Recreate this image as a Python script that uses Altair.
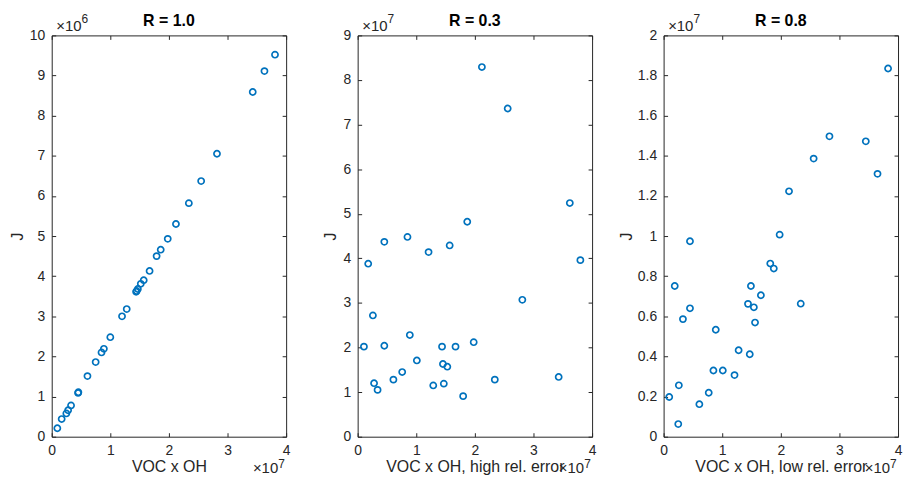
import altair as alt
import pandas as pd

# ---- data (x in units of 1e7, y in units shown by the exponent labels) ----
x1 = [0.096, 0.17, 0.25, 0.28, 0.33, 0.45, 0.455, 0.61, 0.75, 0.85,
      0.89, 1.00, 1.20, 1.28, 1.44, 1.45, 1.47, 1.52, 1.57, 1.67,
      1.79, 1.86, 1.98, 2.12, 2.34, 2.55, 2.82, 3.43, 3.63, 3.81]
y1 = [0.21, 0.44, 0.58, 0.66, 0.78, 1.09, 1.11, 1.51, 1.86, 2.10,
      2.19, 2.48, 3.00, 3.18, 3.61, 3.63, 3.68, 3.81, 3.90, 4.13,
      4.50, 4.66, 4.93, 5.30, 5.82, 6.37, 7.05, 8.59, 9.11, 9.52]

x2 = [0.107, 0.18, 0.26, 0.28, 0.34, 0.455, 0.455, 0.61, 0.76, 0.85,
      0.89, 1.01, 1.21, 1.29, 1.44, 1.455, 1.47, 1.53, 1.57, 1.67,
      1.80, 1.87, 1.98, 2.12, 2.34, 2.56, 2.81, 3.43, 3.62, 3.80]
y2 = [2.02, 3.88, 2.72, 1.20, 1.05, 4.37, 2.04, 1.28, 1.45, 4.48,
      2.28, 1.71, 4.14, 1.15, 2.02, 1.63, 1.19, 1.57, 4.29, 2.02,
      0.91, 4.82, 2.12, 8.29, 1.28, 7.36, 3.07, 1.34, 5.24, 3.96]

x3 = [0.096, 0.19, 0.26, 0.25, 0.33, 0.45, 0.45, 0.61, 0.77, 0.85,
      0.89, 1.01, 1.21, 1.28, 1.44, 1.47, 1.49, 1.54, 1.56, 1.66,
      1.82, 1.88, 1.98, 2.14, 2.34, 2.56, 2.83, 3.45, 3.65, 3.83]
y3 = [0.198, 0.751, 0.256, 0.063, 0.586, 0.974, 0.640, 0.162, 0.219, 0.330,
      0.533, 0.330, 0.307, 0.431, 0.662, 0.411, 0.751, 0.645, 0.569, 0.705,
      0.863, 0.838, 1.007, 1.223, 0.663, 1.386, 1.497, 1.472, 1.310, 1.835]

x_ticks = [0, 1, 2, 3, 4]
y_ticks1 = [0, 1, 2, 3, 4, 5, 6, 7, 8, 9, 10]
y_ticks2 = [0, 1, 2, 3, 4, 5, 6, 7, 8, 9]
y_ticks3 = [0, 0.2, 0.4, 0.6, 0.8, 1, 1.2, 1.4, 1.6, 1.8, 2]

titles = ["R = 1.0", "R = 0.3", "R = 0.8"]
x_titles = ["VOC x OH", "VOC x OH, high rel. error", "VOC x OH, low rel. error"]
y_exps = ["6", "7", "7"]
x_exp = "7"

FONT = "Liberation Sans"
INK = "#262626"
BLUE = "#0072BD"
W, H = 236, 404
T = 4
LFS = 14
TFS = 16
EFS = 15
SFS = 12
LBL = "'' + round(datum.value * 10) / 10"


def panel(xs, ys, yticks, title, xtitle, yexp, ytp):
    df = pd.DataFrame({"x": xs, "y": ys})
    xsc = alt.Scale(domain=[x_ticks[0], x_ticks[-1]], nice=False, zero=False)
    ysc = alt.Scale(domain=[yticks[0], yticks[-1]], nice=False, zero=False)
    common = dict(domain=False, grid=False, tickSize=T, offset=-T, tickColor=INK,
                  tickWidth=1, labelFont=FONT, labelFontSize=LFS, labelColor=INK,
                  labelFlush=False, labelOverlap=False, labelExpr=LBL,
                  titleFont=FONT, titleFontSize=TFS, titleFontWeight="normal",
                  titleColor=INK)
    bottom = alt.Axis(orient="bottom", values=x_ticks, title=xtitle,
                      labelPadding=7, titlePadding=1, **common)
    left = alt.Axis(orient="left", values=yticks, title="J",
                    labelPadding=7, titlePadding=ytp, **common)
    top = alt.Axis(orient="top", values=x_ticks, title=None, labels=False,
                   domain=False, grid=False, tickSize=T, offset=-T,
                   tickColor=INK, tickWidth=1)
    right = alt.Axis(orient="right", values=yticks, title=None, labels=False,
                     domain=False, grid=False, tickSize=T, offset=-T,
                     tickColor=INK, tickWidth=1)

    base = alt.Chart(df)
    pts = base.mark_point(shape="circle", filled=False, color=BLUE, opacity=1,
                          size=38, strokeWidth=1.7).encode(
        x=alt.X("x:Q", scale=xsc, axis=bottom),
        y=alt.Y("y:Q", scale=ysc, axis=left),
    )
    frame = base.mark_point(opacity=0, size=1).encode(
        x=alt.X("x:Q", scale=xsc, axis=top),
        y=alt.Y("y:Q", scale=ysc, axis=right),
    )
    one = pd.DataFrame({"a": ["×10"], "b": [yexp], "c": [x_exp]})
    txt = dict(font=FONT, color=INK, baseline="alphabetic")
    ty1 = alt.Chart(one).mark_text(align="right", fontSize=EFS, **txt).encode(
        x=alt.value(30), y=alt.value(-4.5), text="a:N")
    ty2 = alt.Chart(one).mark_text(align="left", fontSize=SFS, **txt).encode(
        x=alt.value(30), y=alt.value(-12.5), text="b:N")
    tx1 = alt.Chart(one).mark_text(align="right", fontSize=EFS, **txt).encode(
        x=alt.value(W - 8), y=alt.value(H + 37), text="a:N")
    tx2 = alt.Chart(one).mark_text(align="left", fontSize=SFS, **txt).encode(
        x=alt.value(W - 8), y=alt.value(H + 32), text="c:N")

    return alt.layer(pts, frame, ty1, ty2, tx1, tx2).resolve_axis(
        x="independent", y="independent"
    ).properties(
        width=W, height=H,
        title=alt.TitleParams(title, font=FONT, fontSize=TFS, fontWeight="bold",
                              color="#000000", offset=-16, anchor="middle",
                              frame="group"),
    )


p1 = panel(x1, y1, y_ticks1, titles[0], x_titles[0], y_exps[0], 4)
p2 = panel(x2, y2, y_ticks2, titles[1], x_titles[1], y_exps[1], 5)
p3 = panel(x3, y3, y_ticks3, titles[2], x_titles[2], y_exps[2], 3)

chart = alt.hconcat(p1, p2, p3, spacing=72, bounds="flush").properties(
    padding={"left": 0, "top": 3, "right": 0, "bottom": 0}
).configure_view(stroke=INK, strokeWidth=1)

chart.save("out.html", embed_options={"renderer": "svg", "actions": False})
